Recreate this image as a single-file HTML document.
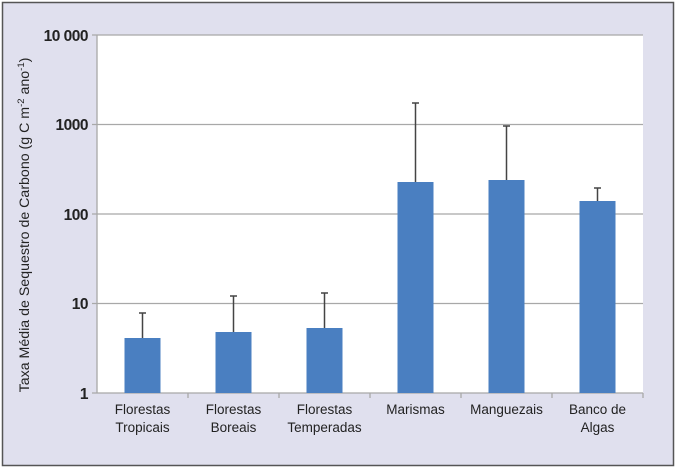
<!DOCTYPE html><html><head><style>body{margin:0;background:#fff}</style></head><body>
<svg width="677" height="469" xmlns="http://www.w3.org/2000/svg" font-family="Liberation Sans, sans-serif">
<rect x="0" y="0" width="677" height="469" fill="#fff"/>
<rect x="2.5" y="2.5" width="671" height="463" fill="#e0e0ee" stroke="#555" stroke-width="1.5"/>
<rect x="97" y="35" width="546" height="358" fill="#fff"/>
<g stroke="#a8a8a8" stroke-width="1.3">
<line x1="92" y1="35" x2="643" y2="35"/><line x1="92" y1="124.5" x2="643" y2="124.5"/><line x1="92" y1="214" x2="643" y2="214"/><line x1="92" y1="303.5" x2="643" y2="303.5"/><line x1="92" y1="393" x2="643" y2="393"/>
<line x1="97" y1="35" x2="97" y2="393"/>
<line x1="188" y1="393" x2="188" y2="398"/><line x1="279" y1="393" x2="279" y2="398"/><line x1="370" y1="393" x2="370" y2="398"/><line x1="461" y1="393" x2="461" y2="398"/><line x1="552" y1="393" x2="552" y2="398"/><line x1="643" y1="393" x2="643" y2="398"/>
</g>
<g stroke="#444" stroke-width="1.5">
<line x1="142.5" y1="338" x2="142.5" y2="313"/><line x1="139" y1="313" x2="146" y2="313"/>
<line x1="233.5" y1="332" x2="233.5" y2="296"/><line x1="230" y1="296" x2="237" y2="296"/>
<line x1="324.5" y1="328" x2="324.5" y2="293"/><line x1="321" y1="293" x2="328" y2="293"/>
<line x1="415.5" y1="182" x2="415.5" y2="103"/><line x1="412" y1="103" x2="419" y2="103"/>
<line x1="506.5" y1="180" x2="506.5" y2="126"/><line x1="503" y1="126" x2="510" y2="126"/>
<line x1="597.5" y1="201" x2="597.5" y2="188"/><line x1="594" y1="188" x2="601" y2="188"/>
</g>
<g fill="#4a7fc1">
<rect x="124.5" y="338" width="36" height="55"/><rect x="215.5" y="332" width="36" height="61"/><rect x="306.5" y="328" width="36" height="65"/>
<rect x="397.5" y="182" width="36" height="211"/><rect x="488.5" y="180" width="36" height="213"/><rect x="579.5" y="201" width="36" height="192"/>
</g>
<g font-size="15.5" font-weight="bold" fill="#222" text-anchor="end" letter-spacing="-0.5">
<text x="88" y="41">10 000</text><text x="88" y="130">1000</text><text x="88" y="220">100</text><text x="88" y="309">10</text><text x="88" y="399">1</text>
</g>
<g font-size="13.5" fill="#222" text-anchor="middle">
<text x="142.5" y="414">Florestas</text><text x="142.5" y="432">Tropicais</text>
<text x="233.5" y="414">Florestas</text><text x="233.5" y="432">Boreais</text>
<text x="324.5" y="414">Florestas</text><text x="324.5" y="432">Temperadas</text>
<text x="415.5" y="414">Marismas</text>
<text x="506.5" y="414">Manguezais</text>
<text x="597.5" y="414">Banco de</text><text x="597.5" y="432">Algas</text>
</g>
<text transform="translate(29,225) rotate(-90)" font-size="14.2" fill="#222" text-anchor="middle">Taxa Média de Sequestro de Carbono (g C m<tspan dy="-5" font-size="9.5">-2</tspan><tspan dy="5"> ano</tspan><tspan dy="-5" font-size="9.5">-1</tspan><tspan dy="5">)</tspan></text>
</svg></body></html>
